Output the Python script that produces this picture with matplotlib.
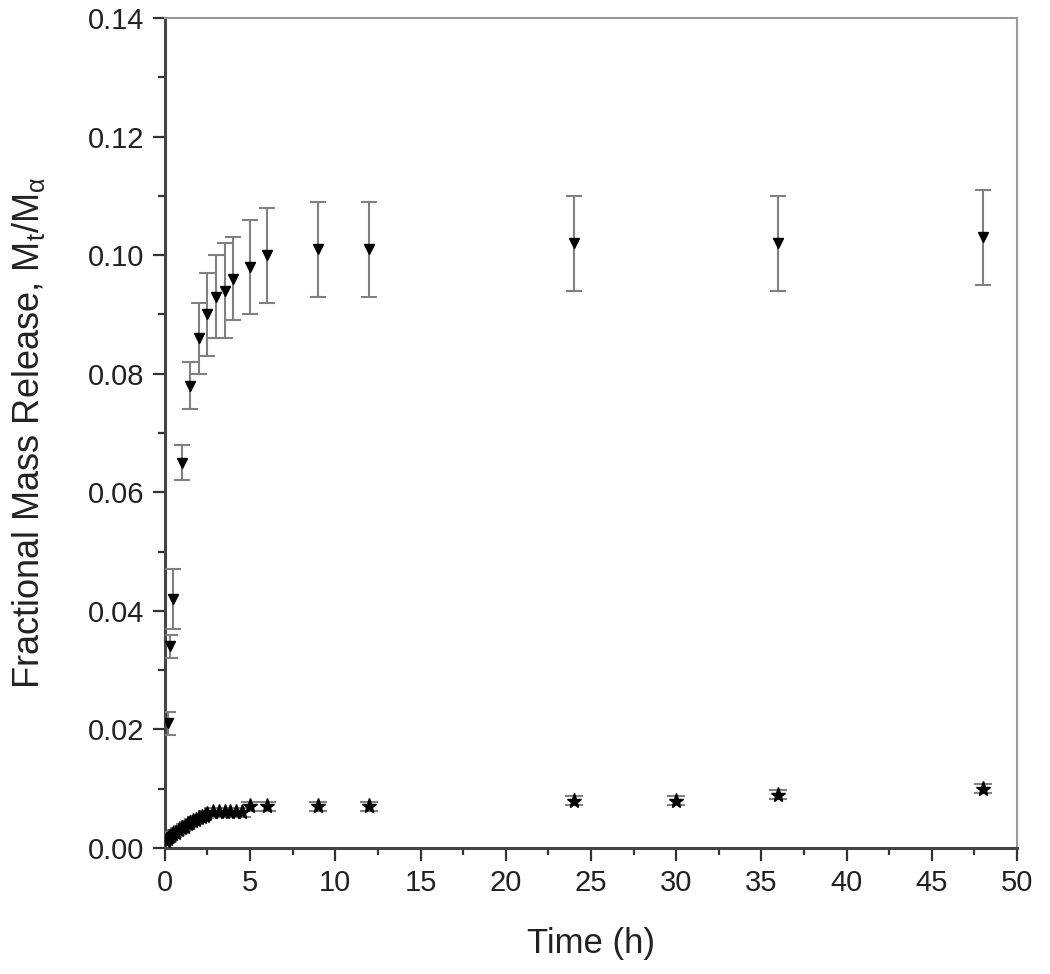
import matplotlib
matplotlib.use("Agg")
import matplotlib.pyplot as plt
from matplotlib.ticker import MultipleLocator, FormatStrFormatter

plt.rcParams['font.family'] = ['Liberation Sans', 'DejaVu Sans']
plt.rcParams['mathtext.fontset'] = 'custom'
plt.rcParams['mathtext.rm'] = 'Liberation Sans'
plt.rcParams['mathtext.it'] = 'Liberation Sans'

# Upper series (triangles)
t_top = [0.17, 0.33, 0.5, 1, 1.5, 2, 2.5, 3, 3.5, 4, 5, 6, 9, 12, 24, 36, 48]
y_top = [0.021, 0.034, 0.042, 0.065, 0.078, 0.086, 0.090, 0.093, 0.094, 0.096,
         0.098, 0.100, 0.101, 0.101, 0.102, 0.102, 0.103]
e_top = [0.002, 0.002, 0.005, 0.003, 0.004, 0.006, 0.007, 0.007, 0.008, 0.007,
         0.008, 0.008, 0.008, 0.008, 0.008, 0.008, 0.008]

# Lower series (stars)
t_bot = [0.083, 0.167, 0.25, 0.333, 0.5, 0.667, 0.833, 1.0, 1.167, 1.333, 1.5,
         1.667, 1.833, 2.0, 2.167, 2.333, 2.5, 2.833, 3.167, 3.5, 3.833, 4.167,
         4.5, 5, 6, 9, 12, 24, 30, 36, 48]
y_bot = [0.0012, 0.0015, 0.0018, 0.0020, 0.0023, 0.0026, 0.0030, 0.0033, 0.0036,
         0.0040, 0.0042, 0.0045, 0.0048, 0.0050, 0.0052, 0.0054, 0.0058, 0.0060,
         0.0060, 0.0060, 0.0060, 0.0060, 0.0060, 0.0070, 0.0070, 0.0070, 0.0070,
         0.0080, 0.0080, 0.0090, 0.0100]
e_bot = [0.0004] * 17 + [0.0007] * 6 + [0.0008] * 4 + [0.0008] * 4

fig = plt.figure(figsize=(10.5, 9.74), dpi=100)
ax = fig.add_axes([0.157, 0.1294, 0.8116, 0.8521])

ax.errorbar(t_top, y_top, yerr=e_top, fmt='v', color='black', markersize=7,
            ecolor='#808080', elinewidth=1.5, capsize=6, capthick=1.5, zorder=3)
ax.errorbar(t_bot, y_bot, yerr=e_bot, fmt='*', color='black', markersize=11,
            ecolor='#808080', elinewidth=1.5, capsize=6.5, capthick=1.5, zorder=3)

ax.set_xlim(0, 50)
ax.set_ylim(0, 0.14)
ax.xaxis.set_major_locator(MultipleLocator(5))
ax.xaxis.set_minor_locator(MultipleLocator(2.5))
ax.yaxis.set_major_locator(MultipleLocator(0.02))
ax.yaxis.set_minor_locator(MultipleLocator(0.01))
ax.yaxis.set_major_formatter(FormatStrFormatter('%.2f'))

ax.tick_params(which='major', direction='out', length=9, width=1.6,
               labelsize=21, color='#333333', labelcolor='#222222', pad=6)
ax.tick_params(which='minor', direction='out', length=5, width=1.6,
               color='#333333')
ax.tick_params(top=False, right=False, which='both')

for s in ['left', 'bottom']:
    ax.spines[s].set_linewidth(2.2)
    ax.spines[s].set_color('#444444')
for s in ['top', 'right']:
    ax.spines[s].set_linewidth(1.5)
    ax.spines[s].set_color('#999999')

ax.set_xlabel('Time (h)', fontsize=25, color='#222222', labelpad=22)
ax.set_ylabel('Fractional Mass Release, M$_t$/M$_α$', fontsize=26,
              color='#222222')
ax.yaxis.set_label_coords(-0.138, 0.5)

fig.savefig('out.png', dpi=100)
